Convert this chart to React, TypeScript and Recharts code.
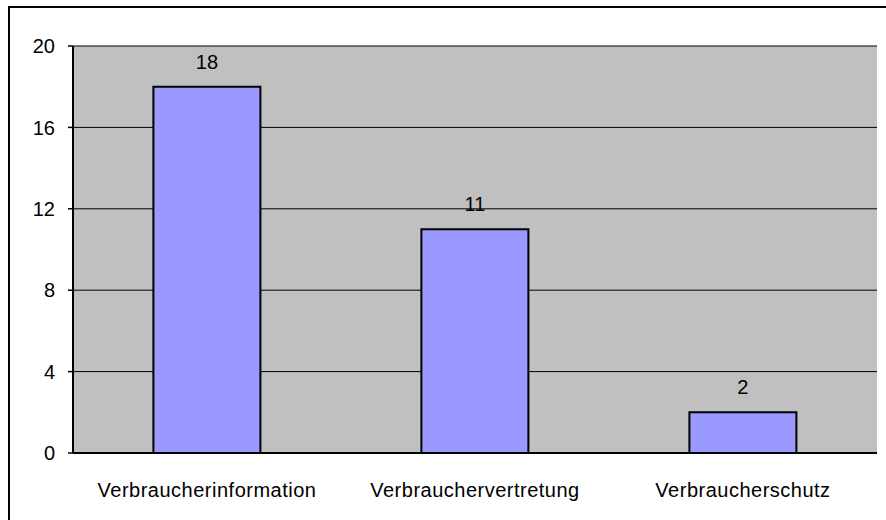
import { BarChart, Bar, XAxis, YAxis, CartesianGrid, LabelList } from 'recharts'

const categories = ['Verbraucherinformation', 'Verbrauchervertretung', 'Verbraucherschutz']
const values = [18, 11, 2]
const yTicks = [0, 4, 8, 12, 16, 20]
const boundaryTicks = [0, 1, 2, 3]

const data = categories.map((name, i) => ({ name, value: values[i] }))

const FONT = 'Arial, "Liberation Sans", sans-serif'

export default function App() {
  return (
    <div style={{ position: 'absolute', left: 0, top: 0, width: 886, height: 520, background: '#fff', overflow: 'hidden' }}>
      <div
        style={{
          position: 'absolute',
          left: 8,
          top: 6,
          width: 900,
          height: 540,
          borderTop: '2px solid #000',
          borderLeft: '2px solid #000',
        }}
      />
      <div style={{ position: 'absolute', left: 0, top: 0 }}>
        <BarChart
          width={886}
          height={520}
          data={data}
          margin={{ top: 46, right: 9, bottom: 37, left: 0 }}
          barCategoryGap="30%"
          style={{ fontFamily: FONT }}
        >
          <CartesianGrid fill="#C0C0C0" vertical={false} stroke="#000" strokeWidth={1} fillOpacity={1} />
          <XAxis
            xAxisId="ticks"
            type="number"
            domain={[0, 3]}
            ticks={boundaryTicks}
            height={0}
            axisLine={false}
            tickLine={{ stroke: '#000', strokeWidth: 1.5 }}
            tickSize={6}
            tickFormatter={() => ''}
            allowDataOverflow
          />
          <XAxis
            dataKey="name"
            height={30}
            axisLine={{ stroke: '#000', strokeWidth: 2 }}
            tickLine={false}
            tickMargin={24}
            tick={{ fill: '#000', fontSize: 20, fontFamily: FONT, letterSpacing: 0.5 }}
            interval={0}
          />
          <XAxis
            xAxisId="top"
            orientation="top"
            dataKey="name"
            height={0}
            axisLine={{ stroke: '#808080', strokeWidth: 3 }}
            tick={false}
            tickLine={false}
          />
          <YAxis
            width={73}
            domain={[0, 20]}
            ticks={yTicks}
            axisLine={{ stroke: '#000', strokeWidth: 2 }}
            tickLine={{ stroke: '#000', strokeWidth: 1.5 }}
            tickSize={5}
            tickMargin={13}
            tick={{ fill: '#000', fontSize: 20, fontFamily: FONT }}
          />
          <YAxis
            yAxisId="right"
            orientation="right"
            width={0}
            domain={[0, 20]}
            axisLine={{ stroke: '#808080', strokeWidth: 3 }}
            tick={false}
            tickLine={false}
          />
          <Bar dataKey="value" fill="#9999FF" stroke="#000" strokeWidth={2} isAnimationActive={false}>
            <LabelList dataKey="value" position="top" offset={18} fill="#000" fontSize={20} fontFamily={FONT} />
          </Bar>
        </BarChart>
      </div>
    </div>
  )
}
